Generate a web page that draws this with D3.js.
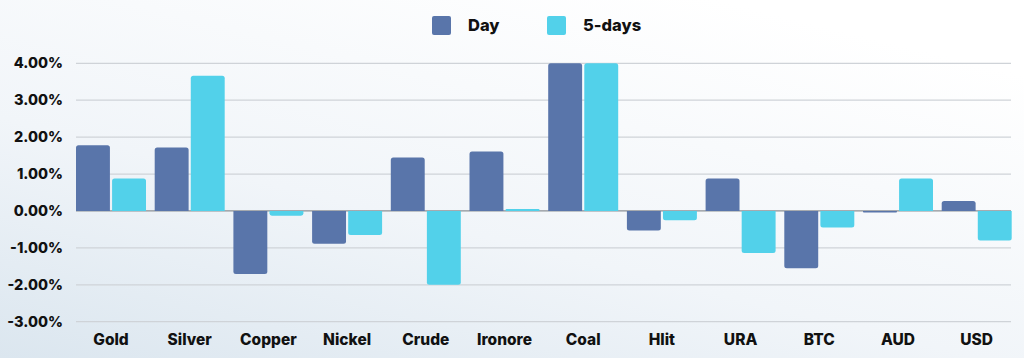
<!DOCTYPE html>
<html>
<head>
<meta charset="utf-8">
<script src="https://cdn.jsdelivr.net/npm/d3@7"></script>
<style>
  body { margin: 0; }
  svg { display: block; font-family: Inter, "Noto Sans", sans-serif; }
</style>
</head>
<body>
<div id="chart"></div>
<script>
var categories = ["Gold", "Silver", "Copper", "Nickel", "Crude", "Ironore", "Coal", "Hlit", "URA", "BTC", "AUD", "USD"];
var seriesNames = ["Day", "5-days"];
var dayValues = [1.78, 1.72, -1.71, -0.89, 1.45, 1.61, 4.0, -0.53, 0.88, -1.55, -0.04, 0.27];
var fiveDayValues = [0.88, 3.66, -0.13, -0.65, -2.0, 0.05, 4.0, -0.25, -1.14, -0.45, 0.88, -0.80];
var yTicks = [-3, -2, -1, 0, 1, 2, 3, 4];

var svgWidth = 1024;
var svgHeight = 358;
var colors = ["#5975aa", "#52d1ea"];

var svg = d3.select("#chart")
  .append("svg")
  .attr("width", svgWidth)
  .attr("height", svgHeight);

// soft background wash
var defs = svg.append("defs");
var grad = defs.append("linearGradient")
  .attr("id", "bg")
  .attr("x1", "0%").attr("y1", "100%")
  .attr("x2", "70%").attr("y2", "0%");
grad.append("stop").attr("offset", "0%").attr("stop-color", "#dbe6ef");
grad.append("stop").attr("offset", "45%").attr("stop-color", "#f1f5f9");
grad.append("stop").attr("offset", "100%").attr("stop-color", "#ffffff");
svg.append("rect").attr("width", svgWidth).attr("height", svgHeight).attr("fill", "url(#bg)");

var data = categories.map(function(c, i) {
  return { cat: c, values: [dayValues[i], fiveDayValues[i]] };
});

var x0 = d3.scaleBand().domain(categories).range([76, 76 + 12 * 78.7]).padding(0);
var x1 = d3.scaleBand().domain([0, 1]).range([0, 70]).paddingInner(0.06);
var y = d3.scaleLinear().domain([-3, 4]).range([321.7, 63.3]);

// grid
svg.append("g")
  .selectAll("line")
  .data(yTicks)
  .enter()
  .append("line")
  .attr("x1", 76)
  .attr("x2", 1011)
  .attr("y1", d => y(d))
  .attr("y2", d => y(d))
  .attr("stroke", d => d === 0 ? "#8c9196" : "#cfd3d8")
  .attr("stroke-width", 1.3);

// y labels
svg.append("g")
  .selectAll("text")
  .data(yTicks)
  .enter()
  .append("text")
  .attr("x", 63)
  .attr("y", d => y(d))
  .attr("dy", "0.35em")
  .attr("text-anchor", "end")
  .attr("font-size", "14.5px")
  .attr("font-weight", 800)
  .attr("fill", "#111")
  .text(d => d.toFixed(2) + "%");

// bars
var groups = svg.append("g")
  .selectAll("g")
  .data(data)
  .enter()
  .append("g")
  .attr("transform", d => `translate(${x0(d.cat)},0)`);

groups.selectAll("path")
  .data(d => d.values.map((v, k) => ({ k: k, v: v })))
  .enter()
  .append("path")
  .attr("fill", d => colors[d.k])
  .attr("d", function(d) {
    var x = x1(d.k), w = x1.bandwidth();
    var y0 = y(0), yv = y(d.v);
    var r = Math.min(2.5, Math.abs(yv - y0) / 2);
    if (d.v >= 0) {
      return `M${x},${y0}V${yv + r}Q${x},${yv} ${x + r},${yv}H${x + w - r}Q${x + w},${yv} ${x + w},${yv + r}V${y0}Z`;
    }
    return `M${x},${y0}V${yv - r}Q${x},${yv} ${x + r},${yv}H${x + w - r}Q${x + w},${yv} ${x + w},${yv - r}V${y0}Z`;
  });

// category labels
svg.append("g")
  .selectAll("text")
  .data(categories)
  .enter()
  .append("text")
  .attr("x", d => x0(d) + 35)
  .attr("y", 340)
  .attr("dy", "0.35em")
  .attr("text-anchor", "middle")
  .attr("font-size", "15.5px")
  .attr("font-weight", 800)
  .attr("fill", "#111")
  .text(d => d);

// legend
var legendX = [432, 547];
var legend = svg.append("g")
  .selectAll("g")
  .data(seriesNames)
  .enter()
  .append("g")
  .attr("transform", (d, i) => `translate(${legendX[i]},16)`);

legend.append("rect")
  .attr("width", 19)
  .attr("height", 19)
  .attr("rx", 2)
  .attr("fill", (d, i) => colors[i]);

legend.append("text")
  .attr("x", 36)
  .attr("y", 9.5)
  .attr("dy", "0.35em")
  .attr("font-size", "16.5px")
  .attr("font-weight", 800)
  .attr("fill", "#111")
  .text(d => d);
</script>
</body>
</html>
